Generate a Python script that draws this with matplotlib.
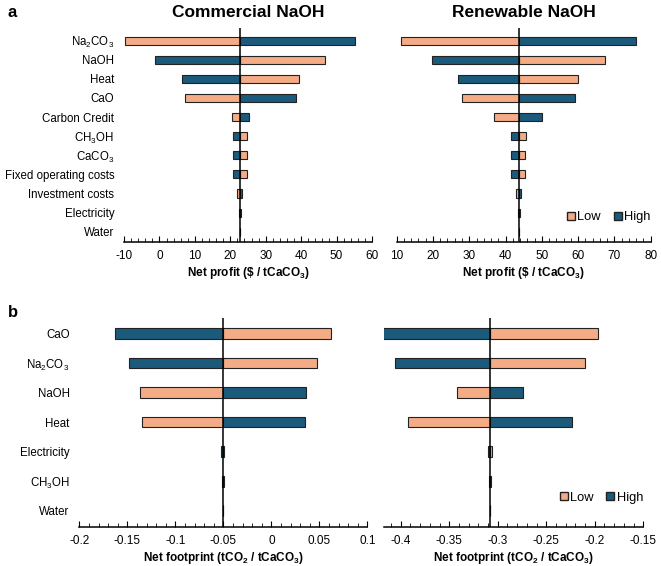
import matplotlib
matplotlib.use('Agg')
import numpy as np
from matplotlib import pyplot as plt
from matplotlib.lines import Line2D
from matplotlib.ticker import MultipleLocator, FormatStrFormatter

plt.rcParams['font.family'] = ['Liberation Sans', 'DejaVu Sans']
plt.rcParams['mathtext.default'] = 'regular'
plt.rcParams['axes.unicode_minus'] = False

# panel a: net profit ($ / tCaCO3)
profit_labels = ['Na$_2$CO$_3$', 'NaOH', 'Heat', 'CaO', 'Carbon Credit', 'CH$_3$OH',
                 'CaCO$_3$', 'Fixed operating costs', 'Investment costs', 'Electricity', 'Water']
comm_base = 22.7
comm_low = [-9.7, 46.8, 39.4, 7.2, 20.4, 24.8, 24.8, 24.8, 22.0, 22.9, 22.75]
comm_high = [55.3, -1.2, 6.3, 38.5, 25.4, 20.7, 20.7, 20.7, 23.4, 22.5, 22.65]
renew_base = 43.7
renew_low = [11.1, 67.4, 60.0, 28.0, 36.9, 45.6, 45.5, 45.5, 42.9, 43.9, 43.75]
renew_high = [75.9, 19.6, 27.0, 59.2, 50.1, 41.5, 41.6, 41.6, 44.2, 43.5, 43.65]

# panel b: net footprint (tCO2 / tCaCO3)
foot_labels = ['CaO', 'Na$_2$CO$_3$', 'NaOH', 'Heat', 'Electricity', 'CH$_3$OH', 'Water']
fcomm_base = -0.0505
fcomm_low = [0.062, 0.048, -0.137, -0.135, -0.049, -0.0495, -0.0502]
fcomm_high = [-0.163, -0.148, 0.036, 0.035, -0.0522, -0.0515, -0.0508]
frenew_base = -0.308
frenew_low = [-0.1965, -0.210, -0.342, -0.393, -0.3063, -0.3065, -0.3078]
frenew_high = [-0.43, -0.406, -0.274, -0.224, -0.3098, -0.3095, -0.3082]

c_low = '#F4AC86'
c_high = '#1C5A7B'
edge = '#222222'


def tornado(ax, labels, base, low, high, height, xlim, major, minor, ylim, show_labels):
    n = len(labels)
    y = np.arange(n)[::-1]
    low = np.array(low)
    high = np.array(high)
    ax.barh(y, low - base, left=base, height=height, color=c_low, edgecolor=edge, linewidth=0.8)
    ax.barh(y, high - base, left=base, height=height, color=c_high, edgecolor=edge, linewidth=0.8)
    ax.axvline(base, color='black', lw=1.1, zorder=3)
    ax.set_xlim(*xlim)
    ax.set_ylim(*ylim)
    ax.set_yticks(y)
    if show_labels:
        ax.set_yticklabels(labels, fontsize=8.3)
    else:
        ax.set_yticklabels([])
    ax.tick_params(axis='y', length=0, pad=7)
    ax.xaxis.set_major_locator(MultipleLocator(major))
    ax.xaxis.set_minor_locator(MultipleLocator(minor))
    ax.xaxis.set_major_formatter(FormatStrFormatter('%g'))
    ax.tick_params(axis='x', which='both', direction='in', labelsize=8.5, pad=6)
    ax.tick_params(axis='x', which='major', length=4)
    ax.tick_params(axis='x', which='minor', length=3)
    for s in ['top', 'left', 'right']:
        ax.spines[s].set_visible(False)
    ax.spines['bottom'].set_linewidth(1.1)


def add_legend(ax, y):
    handles = [Line2D([], [], marker='s', ls='', color=c_low, markeredgecolor=edge, markersize=6),
               Line2D([], [], marker='s', ls='', color=c_high, markeredgecolor=edge, markersize=6)]
    ax.legend(handles, ['Low', 'High'], loc='center right', bbox_to_anchor=(1.045, y), ncol=2,
              frameon=False, fontsize=9.3, handletextpad=0.0, columnspacing=0.8, handlelength=1.0)


fig = plt.figure(figsize=(6.61, 5.66), dpi=100)

ax1 = fig.add_axes([0.1876, 0.573, 0.3752, 0.3776])
tornado(ax1, profit_labels, comm_base, comm_low, comm_high, 0.42, (-10, 60), 10, 2, (-0.52, 10.66), True)
ax1.set_xlabel('Net profit (\\$ / tCaCO$_3$)', fontsize=8.5, fontweight='bold', labelpad=2)
ax1.set_title('Commercial NaOH', fontsize=12.5, fontweight='bold', pad=8)

ax2 = fig.add_axes([0.6001, 0.573, 0.3843, 0.3776])
tornado(ax2, profit_labels, renew_base, renew_low, renew_high, 0.42, (10, 80), 10, 2, (-0.52, 10.66), False)
ax2.set_xlabel('Net profit (\\$ / tCaCO$_3$)', fontsize=8.5, fontweight='bold', labelpad=2)
ax2.set_title('Renewable NaOH', fontsize=12.5, fontweight='bold', pad=8)
add_legend(ax2, 0.115)

ax3 = fig.add_axes([0.12, 0.0694, 0.4357, 0.3682])
tornado(ax3, foot_labels, fcomm_base, fcomm_low, fcomm_high, 0.36, (-0.2, 0.1), 0.05, 0.01, (-0.54, 6.51), True)
ax3.set_xlabel('Net footprint (tCO$_2$ / tCaCO$_3$)', fontsize=8.5, fontweight='bold', labelpad=2)

ax4 = fig.add_axes([0.5814, 0.0694, 0.3918, 0.3682])
tornado(ax4, foot_labels, frenew_base, frenew_low, frenew_high, 0.36, (-0.417, -0.15), 0.05, 0.01, (-0.54, 6.51), False)
ax4.set_xlabel('Net footprint (tCO$_2$ / tCaCO$_3$)', fontsize=8.5, fontweight='bold', labelpad=2)
ax4.set_xticks([-0.4, -0.35, -0.3, -0.25, -0.2, -0.15])
add_legend(ax4, 0.14)

fig.text(0.012, 0.978, 'a', fontsize=12, fontweight='bold', va='center')
fig.text(0.012, 0.447, 'b', fontsize=12, fontweight='bold', va='center')

fig.savefig('out.png', dpi=100)
